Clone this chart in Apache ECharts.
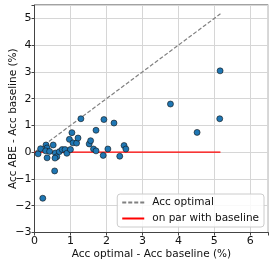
<!DOCTYPE html>
<html>
<head>
<meta charset="utf-8">
<script src="https://cdn.jsdelivr.net/npm/echarts@6/dist/echarts.min.js"></script>
<style>html,body{margin:0;padding:0;background:#fff;}#c{width:274px;height:263px;}</style>
</head>
<body>
<div id="c"></div>
<script>
// Acc optimal - Acc baseline (%)
const accOptimalGain = [0.10,0.17,0.23,0.32,0.35,0.31,0.42,0.35,0.52,0.56,0.58,0.62,0.57,0.69,0.77,0.85,0.90,1.00,0.97,1.04,1.07,1.17,1.21,1.29,1.52,1.56,1.64,1.71,1.71,1.93,1.91,2.04,2.21,2.37,2.49,2.54,3.78,4.52,5.16,5.15];
// Acc ABE - Acc baseline (%)
const accAbeGain = [-0.06,0.13,-1.72,0.27,0.16,0.05,0.03,-0.21,0.27,-0.70,-0.03,-0.17,-0.22,0.02,0.10,0.10,-0.04,0.10,0.48,0.73,0.35,0.34,0.53,1.25,0.31,0.43,0.12,0.05,0.82,1.22,-0.12,0.12,1.09,-0.15,0.25,0.12,1.80,0.74,3.04,1.25];
const refLineX = [0, 5.17];
const optimalLineY = [0, 5.17];
const parLineY = [0, 0];
const xTicks = [0,1,2,3,4,5,6];
const yTicks = [-3,-2,-1,0,1,2,3,4,5];

const font = 'DejaVu Sans';
const fmt = v => (Number.isInteger(v) ? String(v).replace('-', '\u2212') : '');

const chart = echarts.init(document.getElementById('c'), null, {renderer: 'canvas'});
chart.setOption({
  animation: false,
  textStyle: {fontFamily: font},
  grid: {left: 34.5, right: 5.7, top: 5, bottom: 30.5, containLabel: false, outerBoundsMode: 'none',
         show: true, borderColor: '#444', borderWidth: 1, backgroundColor: 'transparent'},
  xAxis: {
    type: 'value', min: xTicks[0], max: 6.5, interval: 1,
    name: 'Acc optimal - Acc baseline (%)', nameLocation: 'middle', nameGap: 16.5, nameMoveOverlap: false,
    nameTextStyle: {fontFamily: font, fontSize: 10.5, color: '#111'},
    axisLine: {show: true, onZero: false, lineStyle: {color: '#444', width: 1}},
    axisTick: {show: true, inside: false, length: 3, lineStyle: {color: '#444'}},
    axisLabel: {fontFamily: font, fontSize: 11, color: '#111', margin: 3, formatter: fmt},
    splitLine: {show: true, lineStyle: {color: '#d6d6d6', width: 1}}
  },
  yAxis: {
    type: 'value', min: yTicks[0], max: 5.5, interval: 1,
    name: 'Acc ABE - Acc baseline (%)', nameLocation: 'middle', nameGap: 15.5, nameRotate: 90, nameMoveOverlap: false,
    nameTextStyle: {fontFamily: font, fontSize: 10.5, color: '#111'},
    axisLine: {show: true, onZero: false, lineStyle: {color: '#444', width: 1}},
    axisTick: {show: true, inside: false, length: 3, lineStyle: {color: '#444'}},
    axisLabel: {fontFamily: font, fontSize: 11, color: '#111', margin: 3, formatter: fmt},
    splitLine: {show: true, lineStyle: {color: '#d6d6d6', width: 1}}
  },
  legend: {
    data: ['Acc optimal', 'on par with baseline'],
    orient: 'vertical', right: 10, bottom: 36,
    itemWidth: 22, itemHeight: 8, itemGap: 5,
    padding: [3, 5, 3, 4],
    itemStyle: {opacity: 0},
    backgroundColor: 'rgba(255,255,255,0.85)', borderColor: '#ccc', borderWidth: 1, borderRadius: 3,
    textStyle: {fontFamily: font, fontSize: 10.5, color: '#111', padding: [0, 0, 0, 3]}
  },
  series: [
    {
      name: 'Acc optimal', type: 'line', symbol: 'none', z: 1,
      data: refLineX.map((x, i) => [x, optimalLineY[i]]),
      lineStyle: {color: '#808080', width: 1.2, type: [4, 2]},
      itemStyle: {color: '#808080'}
    },
    {
      name: 'on par with baseline', type: 'line', symbol: 'none', z: 1,
      data: refLineX.map((x, i) => [x, parLineY[i]]),
      lineStyle: {color: '#ff0000', width: 1.2},
      itemStyle: {color: '#ff0000'}
    },
    {
      name: 'points', type: 'scatter', z: 3, symbolSize: 6,
      data: accOptimalGain.map((x, i) => [x, accAbeGain[i]]),
      itemStyle: {color: '#1f77b4', borderColor: '#111', borderWidth: 0.6, opacity: 1}
    }
  ]
});
</script>
</body>
</html>
